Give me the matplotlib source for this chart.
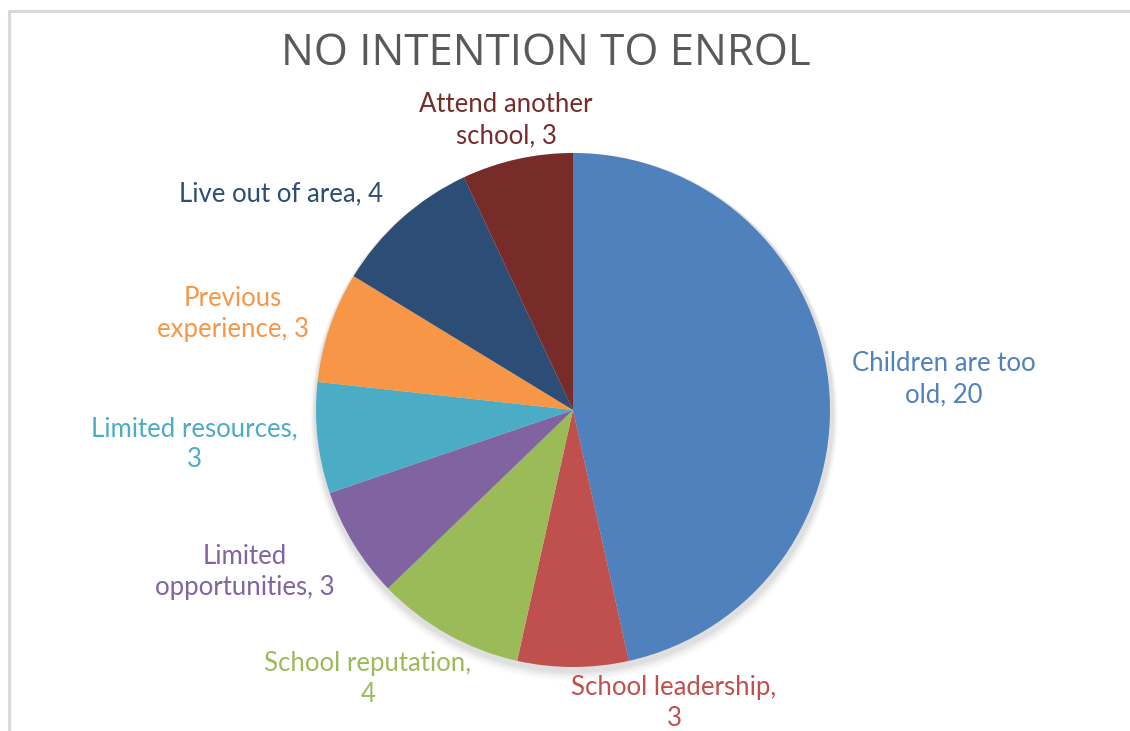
import matplotlib
matplotlib.use("Agg")
import matplotlib.pyplot as plt
from matplotlib.patches import Circle
from matplotlib.lines import Line2D

reasons = ["Children are too old", "School leadership", "School reputation",
           "Limited opportunities", "Limited resources", "Previous experience",
           "Live out of area", "Attend another school"]
counts = [20, 3, 4, 3, 3, 3, 4, 3]
colors = ["#4F81BD", "#C0504D", "#9BBB59", "#8064A2", "#4BACC6", "#F79646",
          "#2C4D75", "#772C2A"]
label_texts = ["Children are too\nold, {}", "School leadership,\n{}",
               "School reputation,\n{}", "Limited\nopportunities, {}",
               "Limited resources,\n{}", "Previous\nexperience, {}",
               "Live out of area, {}", "Attend another\nschool, {}"]

W, H = 1130, 731
fig = plt.figure(figsize=(W / 100, H / 100), dpi=100)
ax = fig.add_axes([0, 0, 1, 1])

cx, cy, r = 573, H - 410, 257

# soft shadow under the pie
for i, a in enumerate([0.035, 0.03, 0.025, 0.02, 0.015]):
    ax.add_patch(Circle((cx + 1, cy - 3 - i), r + 3 + i, color="black",
                        alpha=a, lw=0, zorder=1))

wedges, _ = ax.pie(counts, colors=colors, startangle=90, counterclock=False,
                   center=(cx, cy), radius=r, frame=True,
                   wedgeprops=dict(linewidth=0, zorder=2))
ax.set_xlim(0, W)
ax.set_ylim(0, H)
ax.set_aspect("equal")
ax.axis("off")

# chart frame (left and top edges)
ax.add_line(Line2D([8.5, 8.5, W + 5], [-5, H - 11, H - 11], color="#d9d9d9",
                   lw=2.2, clip_on=False))

label_pos = [(944, 379), (674, 703), (368, 679), (245, 572), (194, 444),
             (233, 314), (281, 194), (506, 120)]
font = ["Lato", "DejaVu Sans"]
for tpl, n, (x, y), c in zip(label_texts, counts, label_pos, colors):
    ax.text(x, H - y, tpl.format(n), ha="center", va="center", color=c,
            fontsize=18.5, family=font, linespacing=1.3, zorder=3)

ax.text(546, H - 54, "NO INTENTION TO ENROL", ha="center", va="center",
        color="#595959", fontsize=31.5,
        family=["Open Sans", "DejaVu Sans"])

fig.savefig("out.png", dpi=100, facecolor="white")
